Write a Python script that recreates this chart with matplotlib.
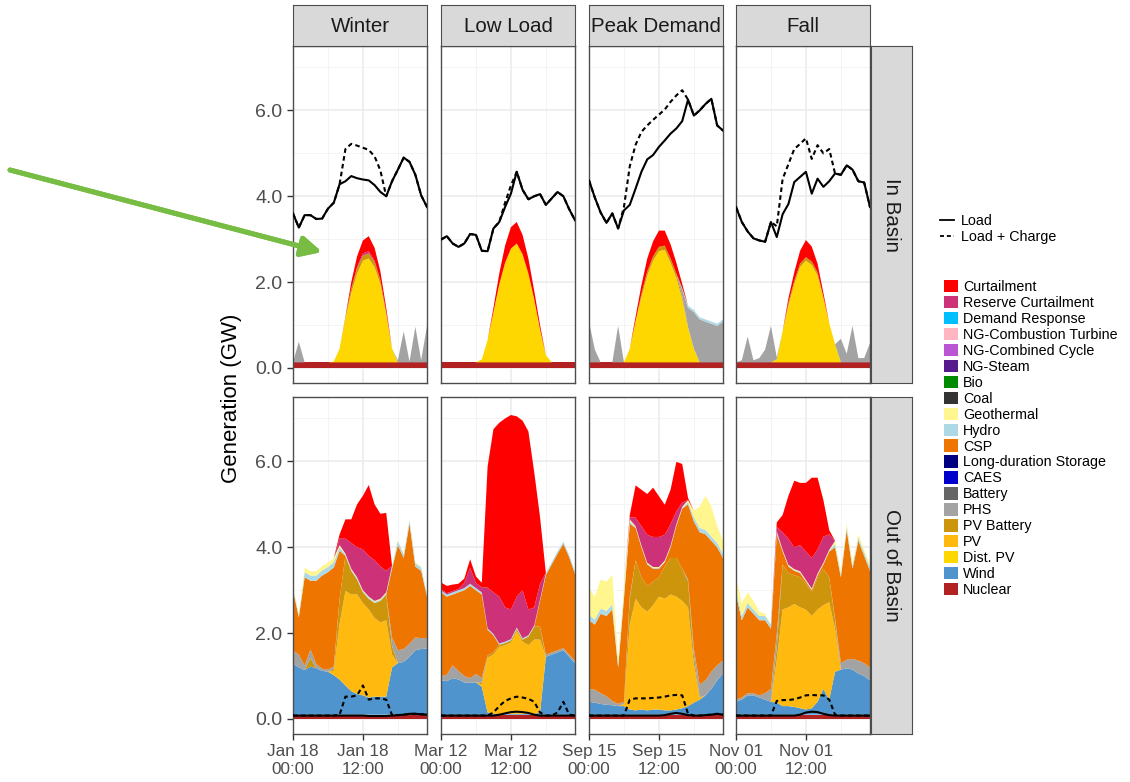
import matplotlib.pyplot as plt
from matplotlib.patches import Patch
from matplotlib.lines import Line2D

plt.rcParams['font.family'] = ['Liberation Sans', 'DejaVu Sans']

# ---------------- data ----------------
hours = list(range(24))
scenarios = ['Winter', 'Low Load', 'Peak Demand', 'Fall']
dates = ['Jan 18', 'Mar 12', 'Sep 15', 'Nov 01']
regions = ['In Basin', 'Out of Basin']

# stack order, bottom to top (legend shows it reversed)
techs = ['Nuclear', 'Wind', 'Dist. PV', 'PV', 'PV Battery', 'PHS', 'Battery', 'CAES',
         'Long-duration Storage', 'CSP', 'Hydro', 'Geothermal', 'Coal', 'Bio', 'NG-Steam',
         'NG-Combined Cycle', 'NG-Combustion Turbine', 'Demand Response',
         'Reserve Curtailment', 'Curtailment']
tech_colors = ['#B22222', '#4F94CD', '#FFD700', '#FFB90F', '#CD950C', '#A3A3A3', '#666666',
               '#0000CD', '#000080', '#EE7600', '#ADD8E6', '#FFF68F', '#333333', '#008B00',
               '#551A8B', '#BA55D3', '#FFB6C1', '#00BFFF', '#CD3278', '#FF0000']

# --- load lines (GW) ---
load_in_win = [3.60, 3.27, 3.56, 3.56, 3.47, 3.48, 3.71, 3.85, 4.28, 4.35, 4.47, 4.42,
               4.39, 4.37, 4.26, 4.10, 4.00, 4.35, 4.62, 4.90, 4.80, 4.50, 4.02, 3.75]
charge_in_win = [3.60, 3.27, 3.56, 3.56, 3.47, 3.48, 3.71, 3.85, 4.28, 5.10, 5.22, 5.18,
                 5.13, 5.08, 4.93, 4.60, 4.00, 4.35, 4.62, 4.90, 4.80, 4.50, 4.02, 3.75]
load_in_low = [2.99, 3.07, 2.90, 2.82, 2.90, 3.12, 3.10, 2.73, 2.72, 3.25, 3.40, 3.75,
               4.06, 4.57, 4.15, 3.93, 4.00, 4.05, 3.80, 3.95, 4.10, 4.00, 3.70, 3.44]
charge_in_low = [2.99, 3.07, 2.90, 2.82, 2.90, 3.12, 3.10, 2.73, 2.72, 3.25, 3.40, 3.85,
                 4.25, 4.57, 4.15, 3.93, 4.00, 4.05, 3.80, 3.95, 4.10, 4.00, 3.70, 3.44]
load_in_peak = [4.37, 3.97, 3.62, 3.38, 3.60, 3.25, 3.67, 3.80, 4.18, 4.57, 4.86, 4.96,
                5.15, 5.30, 5.46, 5.58, 5.75, 6.25, 5.88, 6.00, 6.15, 6.27, 5.65, 5.53]
charge_in_peak = [4.37, 3.97, 3.62, 3.38, 3.60, 3.25, 3.75, 4.70, 5.20, 5.50, 5.65, 5.78,
                  5.90, 6.02, 6.20, 6.35, 6.47, 6.25, 5.88, 6.00, 6.15, 6.27, 5.65, 5.53]
load_in_fall = [3.75, 3.40, 3.18, 3.02, 2.97, 2.94, 3.40, 3.05, 3.58, 3.82, 4.33, 4.45,
                4.57, 4.06, 4.41, 4.22, 4.35, 4.53, 4.50, 4.72, 4.62, 4.35, 4.32, 3.75]
charge_in_fall = [3.75, 3.40, 3.18, 3.02, 2.97, 2.94, 3.40, 3.30, 4.40, 4.75, 5.10, 5.22,
                  5.35, 4.87, 5.19, 5.00, 5.10, 4.53, 4.50, 4.72, 4.62, 4.35, 4.32, 3.75]

load_out_win = [0.08, 0.08, 0.08, 0.08, 0.08, 0.08, 0.08, 0.08, 0.08, 0.08, 0.08, 0.08,
                0.08, 0.07, 0.07, 0.07, 0.07, 0.08, 0.09, 0.10, 0.12, 0.12, 0.11, 0.10]
charge_out_win = [0.08, 0.08, 0.08, 0.08, 0.08, 0.08, 0.08, 0.08, 0.10, 0.52, 0.52, 0.55,
                  0.78, 0.45, 0.48, 0.48, 0.45, 0.09, 0.09, 0.10, 0.12, 0.12, 0.11, 0.10]
load_out_low = [0.08, 0.08, 0.08, 0.08, 0.08, 0.08, 0.08, 0.08, 0.08, 0.08, 0.10, 0.13,
                0.16, 0.17, 0.16, 0.14, 0.10, 0.08, 0.08, 0.08, 0.08, 0.08, 0.08, 0.08]
charge_out_low = [0.08, 0.08, 0.08, 0.08, 0.08, 0.08, 0.08, 0.08, 0.08, 0.15, 0.30, 0.42,
                  0.48, 0.52, 0.50, 0.47, 0.40, 0.15, 0.08, 0.08, 0.15, 0.40, 0.10, 0.08]
load_out_peak = [0.08, 0.08, 0.08, 0.08, 0.08, 0.08, 0.08, 0.08, 0.08, 0.08, 0.08, 0.08,
                 0.08, 0.09, 0.12, 0.14, 0.12, 0.09, 0.08, 0.08, 0.09, 0.10, 0.12, 0.10]
charge_out_peak = [0.08, 0.08, 0.08, 0.08, 0.08, 0.08, 0.08, 0.45, 0.48, 0.48, 0.48, 0.49,
                   0.50, 0.52, 0.55, 0.56, 0.55, 0.12, 0.08, 0.08, 0.09, 0.10, 0.12, 0.10]
load_out_fall = [0.08, 0.08, 0.08, 0.08, 0.08, 0.08, 0.08, 0.08, 0.08, 0.08, 0.08, 0.10,
                 0.15, 0.17, 0.16, 0.12, 0.09, 0.08, 0.08, 0.08, 0.08, 0.08, 0.08, 0.08]
charge_out_fall = [0.08, 0.08, 0.08, 0.08, 0.08, 0.08, 0.08, 0.42, 0.44, 0.44, 0.46, 0.50,
                   0.55, 0.56, 0.55, 0.55, 0.45, 0.10, 0.08, 0.08, 0.08, 0.08, 0.08, 0.08]

# --- In Basin generation (GW) ---
in_nuclear = [0.13, 0.13, 0.13, 0.13, 0.13, 0.13, 0.13, 0.13, 0.13, 0.13, 0.13, 0.13,
              0.13, 0.13, 0.13, 0.13, 0.13, 0.13, 0.13, 0.13, 0.13, 0.13, 0.13, 0.13]

in_win_dpv = [0, 0, 0, 0, 0, 0, 0, 0.02, 0.32, 1.02, 1.62, 2.07,
              2.37, 2.42, 2.22, 1.82, 1.12, 0.32, 0, 0, 0, 0, 0, 0]
in_win_pvb = [0, 0, 0, 0, 0, 0, 0, 0, 0, 0.05, 0.10, 0.12,
              0.12, 0.12, 0.12, 0.10, 0.05, 0, 0, 0, 0, 0, 0, 0]
in_win_phs = [0, 0.48, 0, 0, 0, 0, 0, 0, 0, 0, 0, 0,
              0, 0, 0, 0, 0, 0, 0.05, 0.72, 0.02, 0.83, 0.05, 0.85]
in_win_rescurt = [0, 0, 0, 0, 0, 0, 0, 0, 0, 0, 0, 0.03,
                  0.05, 0.05, 0.03, 0, 0, 0, 0, 0, 0, 0, 0, 0]
in_win_curt = [0, 0, 0, 0, 0, 0, 0, 0, 0, 0, 0.15, 0.25,
               0.30, 0.35, 0.30, 0.20, 0.10, 0, 0, 0, 0, 0, 0, 0]

in_low_dpv = [0, 0, 0, 0, 0, 0, 0, 0.07, 0.52, 1.17, 1.82, 2.32,
              2.65, 2.77, 2.52, 2.07, 1.47, 0.77, 0.17, 0, 0, 0, 0, 0]
in_low_curt = [0, 0, 0, 0, 0, 0, 0, 0, 0, 0.10, 0.25, 0.40,
               0.50, 0.50, 0.45, 0.35, 0.20, 0.10, 0, 0, 0, 0, 0, 0]

in_peak_dpv = [0, 0, 0, 0, 0, 0, 0, 0.32, 0.97, 1.52, 2.02, 2.37,
               2.59, 2.62, 2.32, 1.97, 1.47, 0.82, 0.32, 0, 0, 0, 0, 0]
in_peak_pvb = [0, 0, 0, 0, 0, 0, 0, 0, 0, 0.08, 0.10, 0.10,
               0.10, 0.10, 0.10, 0.10, 0.08, 0, 0, 0, 0, 0, 0, 0]
in_peak_phs = [0.95, 0.30, 0, 0, 0, 0.85, 0, 0, 0, 0, 0, 0,
               0, 0, 0, 0, 0.15, 0.45, 0.85, 1.00, 0.95, 0.90, 0.85, 0.95]
in_peak_hydro = [0, 0, 0, 0, 0, 0, 0, 0, 0, 0, 0, 0,
                 0, 0, 0, 0, 0.03, 0.05, 0.05, 0.05, 0.05, 0.05, 0.05, 0.05]
in_peak_curt = [0, 0, 0, 0, 0, 0, 0, 0, 0.10, 0.20, 0.30, 0.35,
                0.38, 0.35, 0.33, 0.25, 0.10, 0, 0, 0, 0, 0, 0, 0]

in_fall_dpv = [0, 0, 0, 0, 0, 0, 0, 0.07, 0.72, 1.32, 1.82, 2.22,
               2.37, 2.27, 2.02, 1.52, 0.92, 0.42, 0, 0, 0, 0, 0, 0]
in_fall_pvb = [0, 0, 0, 0, 0, 0, 0, 0, 0, 0.08, 0.08, 0.08,
               0.08, 0.08, 0.08, 0, 0, 0, 0, 0, 0, 0, 0, 0]
in_fall_phs = [0, 0.05, 0.60, 0.05, 0.10, 0.30, 0.85, 0.05, 0, 0, 0, 0,
               0, 0, 0, 0, 0, 0, 0.55, 0.20, 0.85, 0.10, 0.10, 0.45]
in_fall_curt = [0, 0, 0, 0, 0, 0, 0, 0, 0, 0.10, 0.20, 0.30,
                0.40, 0.35, 0.20, 0.10, 0, 0, 0, 0, 0, 0, 0, 0]

# --- Out of Basin generation (GW) ---
out_nuclear = [0.10, 0.10, 0.10, 0.10, 0.10, 0.10, 0.10, 0.10, 0.10, 0.10, 0.10, 0.10,
               0.10, 0.10, 0.10, 0.10, 0.10, 0.10, 0.10, 0.10, 0.10, 0.10, 0.10, 0.10]

out_win_wind = [1.19, 1.10, 1.04, 1.12, 1.08, 1.02, 1.00, 0.92, 0.82, 0.68, 0.55, 0.48,
                0.45, 0.40, 0.42, 0.42, 0.42, 1.10, 1.20, 1.23, 1.35, 1.50, 1.53, 1.54]
out_win_pv = [0, 0, 0, 0, 0, 0, 0, 0.10, 1.30, 2.20, 2.25, 2.32,
              2.15, 2.05, 1.83, 1.73, 1.78, 0.30, 0, 0, 0, 0, 0, 0]
out_win_pvb = [0, 0, 0, 0.20, 0, 0, 0, 0.05, 0.58, 0.82, 0.55, 0.35,
               0.25, 0.25, 0.35, 0.50, 0.60, 0.20, 0, 0, 0, 0, 0, 0]
out_win_phs = [0.30, 0.30, 0.10, 0.20, 0.10, 0.05, 0.05, 0.05, 0, 0, 0, 0,
               0, 0, 0, 0, 0, 0.20, 0.30, 0.30, 0.30, 0.30, 0.25, 0.25]
out_win_csp = [1.41, 0.87, 2.06, 1.60, 1.94, 2.17, 2.27, 2.31, 1.12, 0, 0, 0,
               0, 0, 0, 0, 0, 1.60, 2.45, 2.12, 2.80, 1.65, 1.57, 0.96]
out_win_hydro = [0.05, 0.05, 0.12, 0.12, 0.12, 0.12, 0.12, 0.12, 0.08, 0.03, 0.03, 0.03,
                 0.03, 0.03, 0.03, 0.03, 0.03, 0.05, 0.10, 0.08, 0.08, 0.08, 0.08, 0.05]
out_win_geo = [0.03, 0.03, 0.10, 0.10, 0.10, 0.10, 0.10, 0.10, 0.05, 0.02, 0.02, 0.02,
               0.02, 0.02, 0.02, 0.02, 0.02, 0.02, 0.02, 0.02, 0.02, 0.02, 0.02, 0.02]
out_win_rescurt = [0, 0, 0, 0, 0, 0, 0, 0, 0.15, 0.35, 0.60, 0.70,
                   0.95, 0.95, 0.95, 0.75, 0.50, 0, 0, 0, 0, 0, 0, 0]
out_win_curt = [0, 0, 0, 0, 0, 0, 0, 0, 0.10, 0.45, 0.55, 1.00,
                1.25, 1.65, 1.30, 1.23, 1.35, 0, 0, 0, 0, 0, 0, 0]

out_low_wind = [0.80, 0.78, 0.85, 0.82, 0.75, 0.75, 0.75, 0.65, 0.05, 0.02, 0.02, 0.02,
                0.02, 0.02, 0.02, 0.02, 0.02, 0.05, 1.35, 1.40, 1.45, 1.50, 1.35, 1.20]
out_low_pv = [0, 0, 0, 0, 0, 0, 0, 0.05, 1.28, 1.38, 1.56, 1.60,
              1.66, 1.93, 1.68, 1.60, 1.73, 1.70, 0, 0, 0, 0, 0, 0]
out_low_pvb = [0, 0, 0, 0, 0, 0, 0, 0.05, 0.05, 0.05, 0.05, 0.05,
               0.05, 0.05, 0.05, 0.20, 0.30, 0.30, 0, 0, 0, 0, 0, 0]
out_low_phs = [0.10, 0.15, 0.30, 0.20, 0.15, 0.10, 0.20, 0.10, 0, 0, 0, 0,
               0, 0, 0, 0, 0, 0, 0.05, 0.05, 0.05, 0.05, 0.05, 0.05]
out_low_csp = [1.95, 1.82, 1.65, 1.83, 2.00, 2.15, 1.95, 1.95, 0.60, 0.40, 0, 0,
               0, 0, 0, 0, 0, 0.60, 1.85, 2.05, 2.25, 2.43, 2.27, 2.03]
out_low_hydro = [0.05, 0.05, 0.05, 0.05, 0.05, 0.05, 0.05, 0.05, 0.03, 0.03, 0.03, 0.03,
                 0.03, 0.03, 0.03, 0.03, 0.03, 0.03, 0.05, 0.05, 0.05, 0.05, 0.05, 0.05]
out_low_rescurt = [0.03, 0.03, 0.03, 0.03, 0.12, 0.37, 0.12, 0.12, 0.95, 0.97, 1.09, 0.80,
                   0.69, 0.72, 1.12, 0.60, 0.42, 0.37, 0, 0, 0, 0, 0, 0]
out_low_curt = [0.15, 0.17, 0.15, 0.12, 0.10, 0.20, 0.15, 0.10, 2.82, 3.80, 4.05, 4.40,
                4.53, 4.20, 3.95, 4.15, 3.15, 1.55, 0, 0, 0, 0, 0, 0]

out_peak_wind = [0.30, 0.28, 0.25, 0.23, 0.22, 0.20, 0.20, 0.12, 0.10, 0.12, 0.10, 0.12,
                 0.12, 0.10, 0.10, 0.12, 0.15, 0.20, 0.28, 0.35, 0.45, 0.60, 0.80, 0.96]
out_peak_pv = [0, 0, 0, 0, 0, 0, 0.05, 1.98, 2.60, 2.38, 2.30, 2.43,
               2.63, 2.60, 2.70, 2.63, 2.50, 2.30, 0.90, 0.05, 0, 0, 0, 0]
out_peak_pvb = [0, 0, 0, 0, 0, 0, 0, 0.60, 0.90, 0.70, 0.60, 0.55,
                0.45, 0.75, 0.85, 0.90, 0.75, 0.60, 0.20, 0, 0, 0, 0, 0]
out_peak_phs = [0.30, 0.30, 0.25, 0.20, 0.10, 0.05, 0.05, 0.05, 0, 0, 0, 0,
                0, 0, 0, 0, 0, 0.05, 0.15, 0.30, 0.35, 0.40, 0.35, 0.30]
out_peak_csp = [1.60, 1.52, 1.85, 1.87, 2.13, 0.85, 2.40, 1.70, 0.75, 0.70, 0.50, 0.30,
                0.20, 0.10, 0.25, 0.75, 1.40, 1.75, 2.97, 3.55, 3.40, 3.05, 2.75, 2.39]
out_peak_hydro = [0.12, 0.12, 0.12, 0.12, 0.12, 0.10, 0.12, 0.05, 0.02, 0.02, 0.02, 0.02,
                  0.02, 0.02, 0.02, 0.02, 0.02, 0.05, 0.10, 0.10, 0.10, 0.10, 0.10, 0.10]
out_peak_geo = [0.63, 0.53, 0.68, 0.68, 0.68, 0.10, 0.18, 0.05, 0.02, 0.02, 0.02, 0.02,
                0.02, 0.02, 0.02, 0.02, 0.02, 0.05, 0.15, 0.50, 0.80, 0.70, 0.40, 0.30]
out_peak_rescurt = [0, 0, 0, 0, 0, 0, 0, 0.05, 0.20, 0.45, 0.65, 0.70,
                    0.70, 0.60, 0.50, 0.30, 0.10, 0, 0, 0, 0, 0, 0, 0]
out_peak_curt = [0, 0, 0, 0, 0, 0, 0, 0.05, 0.75, 0.85, 0.95, 1.15,
                 0.95, 0.70, 0.80, 1.15, 0.90, 0.05, 0, 0, 0, 0, 0, 0]

out_fall_wind = [0.30, 0.35, 0.45, 0.45, 0.40, 0.35, 0.30, 0.28, 0.20, 0.20, 0.18, 0.15,
                 0.12, 0.15, 0.30, 0.60, 0.35, 1.00, 1.05, 1.08, 1.05, 0.96, 0.90, 0.80]
out_fall_pv = [0, 0, 0, 0, 0, 0, 0, 1.00, 2.25, 2.30, 2.40, 2.35,
               2.33, 2.15, 2.15, 1.95, 2.27, 1.00, 0, 0, 0, 0, 0, 0]
out_fall_pvb = [0, 0, 0, 0, 0, 0, 0, 0.30, 1.05, 0.80, 0.67, 0.70,
                0.60, 0.55, 0.75, 0.85, 0.58, 0.20, 0, 0, 0, 0, 0, 0]
out_fall_phs = [0.05, 0.05, 0.05, 0.05, 0.05, 0.15, 0.30, 0.30, 0, 0, 0, 0,
                0, 0, 0, 0, 0, 0.05, 0.15, 0.20, 0.25, 0.30, 0.30, 0.30]
out_fall_csp = [2.45, 1.80, 2.00, 1.85, 1.75, 1.70, 1.40, 2.32, 0.30, 0.15, 0.10, 0.10,
                0.05, 0.05, 0.05, 0.10, 0.60, 1.65, 2.00, 3.02, 2.10, 2.79, 2.50, 2.25]
out_fall_hydro = [0.10, 0.10, 0.10, 0.10, 0.10, 0.10, 0.10, 0.05, 0.02, 0.02, 0.02, 0.02,
                  0.02, 0.02, 0.02, 0.02, 0.02, 0.08, 0.08, 0.08, 0.08, 0.08, 0.08, 0.08]
out_fall_geo = [0.30, 0.30, 0.25, 0.20, 0.10, 0.05, 0, 0.02, 0.02, 0.02, 0.02, 0.02,
                0.02, 0.02, 0.02, 0.02, 0.02, 0.07, 0.07, 0.07, 0.07, 0.07, 0.07, 0.07]
out_fall_rescurt = [0, 0, 0, 0, 0, 0, 0, 0.10, 0.41, 0.61, 0.51, 0.61,
                    0.66, 0.71, 0.56, 0.61, 0.36, 0, 0, 0, 0, 0, 0, 0]
out_fall_curt = [0, 0, 0, 0, 0, 0, 0, 0.11, 0.40, 1.00, 1.55, 1.45,
                 1.60, 1.87, 1.67, 0.85, 0.10, 0, 0, 0, 0, 0, 0, 0]

# tables built from the lists above: (region, scenario) -> {tech: values}
gen = {
    ('In Basin', 'Winter'): {'Nuclear': in_nuclear, 'Dist. PV': in_win_dpv, 'PV Battery': in_win_pvb,
                             'PHS': in_win_phs, 'Reserve Curtailment': in_win_rescurt,
                             'Curtailment': in_win_curt},
    ('In Basin', 'Low Load'): {'Nuclear': in_nuclear, 'Dist. PV': in_low_dpv,
                               'Curtailment': in_low_curt},
    ('In Basin', 'Peak Demand'): {'Nuclear': in_nuclear, 'Dist. PV': in_peak_dpv,
                                  'PV Battery': in_peak_pvb, 'PHS': in_peak_phs,
                                  'Hydro': in_peak_hydro, 'Curtailment': in_peak_curt},
    ('In Basin', 'Fall'): {'Nuclear': in_nuclear, 'Dist. PV': in_fall_dpv, 'PV Battery': in_fall_pvb,
                           'PHS': in_fall_phs, 'Curtailment': in_fall_curt},
    ('Out of Basin', 'Winter'): {'Nuclear': out_nuclear, 'Wind': out_win_wind, 'PV': out_win_pv,
                                 'PV Battery': out_win_pvb, 'PHS': out_win_phs, 'CSP': out_win_csp,
                                 'Hydro': out_win_hydro, 'Geothermal': out_win_geo,
                                 'Reserve Curtailment': out_win_rescurt, 'Curtailment': out_win_curt},
    ('Out of Basin', 'Low Load'): {'Nuclear': out_nuclear, 'Wind': out_low_wind, 'PV': out_low_pv,
                                   'PV Battery': out_low_pvb, 'PHS': out_low_phs, 'CSP': out_low_csp,
                                   'Hydro': out_low_hydro, 'Reserve Curtailment': out_low_rescurt,
                                   'Curtailment': out_low_curt},
    ('Out of Basin', 'Peak Demand'): {'Nuclear': out_nuclear, 'Wind': out_peak_wind, 'PV': out_peak_pv,
                                      'PV Battery': out_peak_pvb, 'PHS': out_peak_phs,
                                      'CSP': out_peak_csp, 'Hydro': out_peak_hydro,
                                      'Geothermal': out_peak_geo,
                                      'Reserve Curtailment': out_peak_rescurt,
                                      'Curtailment': out_peak_curt},
    ('Out of Basin', 'Fall'): {'Nuclear': out_nuclear, 'Wind': out_fall_wind, 'PV': out_fall_pv,
                               'PV Battery': out_fall_pvb, 'PHS': out_fall_phs, 'CSP': out_fall_csp,
                               'Hydro': out_fall_hydro, 'Geothermal': out_fall_geo,
                               'Reserve Curtailment': out_fall_rescurt, 'Curtailment': out_fall_curt},
}
loads = {
    ('In Basin', 'Winter'): (load_in_win, charge_in_win),
    ('In Basin', 'Low Load'): (load_in_low, charge_in_low),
    ('In Basin', 'Peak Demand'): (load_in_peak, charge_in_peak),
    ('In Basin', 'Fall'): (load_in_fall, charge_in_fall),
    ('Out of Basin', 'Winter'): (load_out_win, charge_out_win),
    ('Out of Basin', 'Low Load'): (load_out_low, charge_out_low),
    ('Out of Basin', 'Peak Demand'): (load_out_peak, charge_out_peak),
    ('Out of Basin', 'Fall'): (load_out_fall, charge_out_fall),
}
color_of = dict(zip(techs, tech_colors))

# ---------------- layout (pixels) ----------------
W, H = 1130, 782
fig = plt.figure(figsize=(W / 100, H / 100), dpi=100)


def rect(x0, y0, w, h):
    return [x0 / W, 1 - (y0 + h) / H, w / W, h / H]


col_left = [293, 441, 589, 736]
row_top = [46, 397]
pw, ph = 134, 337
border = '#4D4D4D'
dash = (0, (2.2, 1.6))

for i, region in enumerate(regions):
    for j, scen in enumerate(scenarios):
        ax = fig.add_axes(rect(col_left[j], row_top[i], pw, ph))
        key = (region, scen)
        layers = [t for t in techs if t in gen[key]]
        ax.stackplot(hours, *[gen[key][t] for t in layers],
                     colors=[color_of[t] for t in layers], linewidth=0)
        load, charge = loads[key]
        ax.plot(hours, charge, color='black', lw=1.5, ls=dash, zorder=3)
        ax.plot(hours, load, color='black', lw=1.5, zorder=4)

        ax.set_xlim(0, 23)
        ax.set_ylim(-0.35, 7.5)
        ax.set_xticks([0, 12])
        ax.set_xticks([6, 18], minor=True)
        ax.set_yticks([0, 2, 4, 6])
        ax.set_yticks([1, 3, 5, 7], minor=True)
        ax.set_axisbelow(True)
        ax.grid(which='major', color='#EBEBEB', lw=1.1)
        ax.grid(which='minor', color='#F2F2F2', lw=0.6)
        for s in ax.spines.values():
            s.set_color(border)
            s.set_linewidth(1.0)
        ax.tick_params(which='minor', length=0)
        ax.tick_params(which='major', length=4, width=1, color='#333333', colors='#4D4D4D')
        if j == 0:
            ax.set_yticklabels(['0.0', '2.0', '4.0', '6.0'], fontsize=14)
        else:
            ax.tick_params(axis='y', which='major', length=0, labelleft=False)
        if i == 1:
            ax.set_xticklabels([dates[j] + '\n00:00', dates[j] + '\n12:00'],
                               fontsize=12.3, linespacing=1.2)
        else:
            ax.tick_params(axis='x', which='major', length=0, labelbottom=False)

# column strips
for j, scen in enumerate(scenarios):
    sax = fig.add_axes(rect(col_left[j], 5, pw, 41))
    sax.set_facecolor('#D9D9D9')
    sax.set_xticks([])
    sax.set_yticks([])
    for s in sax.spines.values():
        s.set_color(border)
    sax.text(0.5, 0.48, scen, ha='center', va='center', fontsize=14.8, color='#1A1A1A',
             transform=sax.transAxes)

# row strips
for i, region in enumerate(regions):
    sax = fig.add_axes(rect(871, row_top[i], 41, ph))
    sax.set_facecolor('#D9D9D9')
    sax.set_xticks([])
    sax.set_yticks([])
    for s in sax.spines.values():
        s.set_color(border)
    sax.text(0.5, 0.5, region, ha='center', va='center', rotation=-90, fontsize=14.8,
             color='#1A1A1A', transform=sax.transAxes)

fig.text(232 / W, 1 - 398 / H, 'Generation (GW)', rotation=90, ha='center', va='center',
         fontsize=16, color='black')

# legends
line_handles = [Line2D([], [], color='black', lw=1.3),
                Line2D([], [], color='black', lw=1.3, ls=dash)]
fig.legend(line_handles, ['Load', 'Load + Charge'], loc='upper left',
           bbox_to_anchor=(940 / W, 1 - 214 / H), frameon=False, fontsize=10.3,
           handlelength=1.0, handletextpad=0.45, labelspacing=0.12, borderpad=0, borderaxespad=0)

fill_handles = [Patch(facecolor=color_of[t], edgecolor='none') for t in techs[::-1]]
fig.legend(fill_handles, techs[::-1], loc='upper left',
           bbox_to_anchor=(944 / W, 1 - 280 / H), frameon=False, fontsize=10.3,
           handlelength=0.95, handleheight=0.95, handletextpad=0.4, labelspacing=0.13,
           borderpad=0, borderaxespad=0)

# green pointer arrow
fig.add_artist(plt.annotate('', xy=(322 / W, 1 - 252 / H), xytext=(10 / W, 1 - 170 / H),
                            xycoords='figure fraction', textcoords='figure fraction',
                            arrowprops=dict(arrowstyle='-|>', color='#77BC43', lw=3.6,
                                            mutation_scale=30, shrinkA=0, shrinkB=0),
                            annotation_clip=False))

fig.savefig('out.png', dpi=100)
